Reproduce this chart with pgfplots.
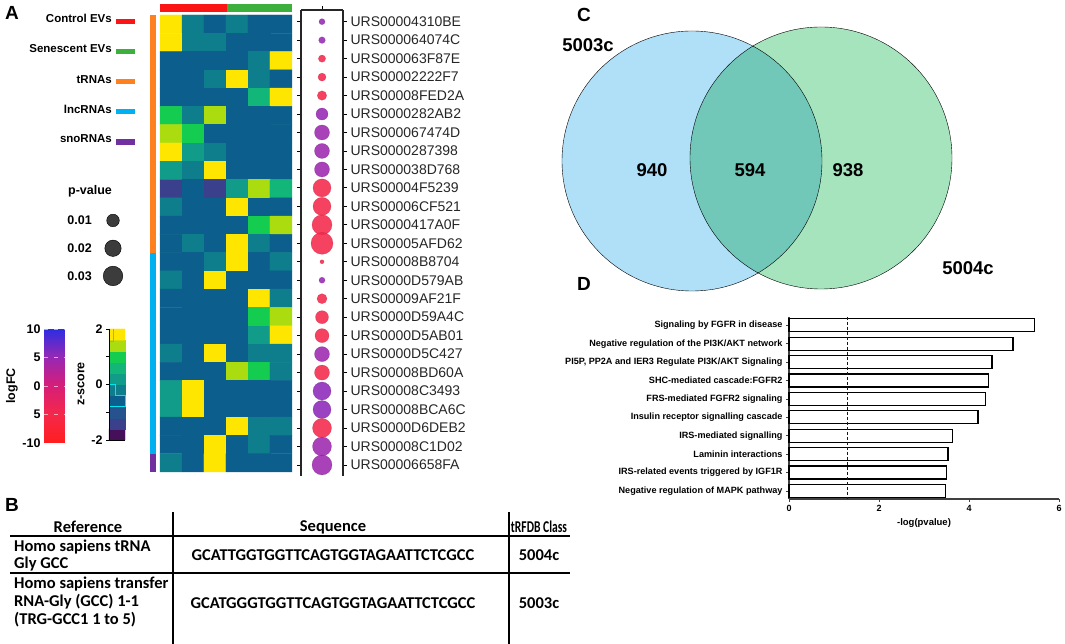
\documentclass[border=0pt]{standalone}
\usepackage{pgfplots}
\pgfplotsset{compat=1.18}
\usepackage{fontspec}
\setmainfont{Liberation Sans}
\newfontfamily\calib{Carlito}
\newcommand\fs[1]{\fontsize{#1}{#1}\selectfont}
\definecolor{cRed}{RGB}{250,20,20}
\definecolor{cGreen}{RGB}{60,175,60}
\definecolor{cOrange}{RGB}{255,128,30}
\definecolor{cCyan}{RGB}{0,176,240}
\definecolor{cPurple}{RGB}{112,48,160}
\definecolor{vblue}{RGB}{176,224,248}
\definecolor{vgreen}{RGB}{166,228,190}
\definecolor{dotgray}{RGB}{60,60,60}
\pgfplotsset{
  colormap={logfc}{rgb255(0cm)=(255,30,30) rgb255(1cm)=(245,40,75) rgb255(2cm)=(215,30,120) rgb255(3cm)=(150,40,180) rgb255(4cm)=(45,45,225)},
  colormap={zs}{rgb255(0cm)=(70,15,90) rgb255(1cm)=(58,64,140) rgb255(2cm)=(38,82,142) rgb255(3cm)=(12,95,140) rgb255(4cm)=(14,126,140) rgb255(5cm)=(17,155,137) rgb255(6cm)=(18,182,120) rgb255(7cm)=(20,205,80) rgb255(8cm)=(170,220,15) rgb255(9cm)=(255,230,0)},
  pix/.style={at={(0pt,0pt)}, anchor=south west, scale only axis,
    width=1065pt, height=644pt, xmin=0, xmax=1065, ymin=0, ymax=644,
    y dir=reverse, hide axis, clip=false},
}
\begin{document}
\begin{tikzpicture}[x=1pt,y=1pt]
\useasboundingbox (0,0) rectangle (1065,644);

%% ---------------- Heatmap ----------------
\begin{axis}[at={(160pt,172pt)}, anchor=south west, scale only axis,
  width=132pt, height=457pt, xmin=0.5, xmax=6.5, ymin=0.5, ymax=25.5,
  y dir=reverse, hide axis, clip=false,
  colormap name=zs, point meta min=-1.8, point meta max=1.8]
\addplot[matrix plot*, mesh/cols=6, point meta=explicit] table[row sep=\\, meta=z] {
x y z\\
1 1 1.8\\ 2 1 -0.2\\ 3 1 -0.6\\ 4 1 -0.2\\ 5 1 -0.6\\ 6 1 -0.6\\
1 2 1.8\\ 2 2 -0.2\\ 3 2 -0.2\\ 4 2 -0.6\\ 5 2 -0.6\\ 6 2 -0.6\\
1 3 -0.6\\ 2 3 -0.6\\ 3 3 -0.6\\ 4 3 -0.6\\ 5 3 -0.2\\ 6 3 1.8\\
1 4 -0.6\\ 2 4 -0.6\\ 3 4 -0.2\\ 4 4 1.8\\ 5 4 -0.2\\ 6 4 -0.6\\
1 5 -0.6\\ 2 5 -0.6\\ 3 5 -0.6\\ 4 5 -0.6\\ 5 5 0.6\\ 6 5 1.8\\
1 6 1.0\\ 2 6 -0.2\\ 3 6 1.4\\ 4 6 -0.6\\ 5 6 -0.6\\ 6 6 -0.6\\
1 7 1.4\\ 2 7 1.0\\ 3 7 -0.6\\ 4 7 -0.6\\ 5 7 -0.6\\ 6 7 -0.6\\
1 8 1.8\\ 2 8 0.2\\ 3 8 -0.2\\ 4 8 -0.6\\ 5 8 -0.6\\ 6 8 -0.6\\
1 9 0.2\\ 2 9 -0.2\\ 3 9 1.8\\ 4 9 -0.6\\ 5 9 -0.6\\ 6 9 -0.6\\
1 10 -1.4\\ 2 10 -0.6\\ 3 10 -1.4\\ 4 10 0.2\\ 5 10 1.4\\ 6 10 0.6\\
1 11 -0.2\\ 2 11 -0.6\\ 3 11 -0.6\\ 4 11 1.8\\ 5 11 -0.6\\ 6 11 -0.6\\
1 12 -0.6\\ 2 12 -0.6\\ 3 12 -0.6\\ 4 12 -0.6\\ 5 12 1.0\\ 6 12 1.4\\
1 13 -0.6\\ 2 13 -0.2\\ 3 13 -0.6\\ 4 13 1.8\\ 5 13 -0.2\\ 6 13 -0.6\\
1 14 -0.6\\ 2 14 -0.6\\ 3 14 -0.2\\ 4 14 1.8\\ 5 14 -0.6\\ 6 14 -0.2\\
1 15 -0.2\\ 2 15 -0.6\\ 3 15 1.8\\ 4 15 -0.6\\ 5 15 -0.6\\ 6 15 -0.6\\
1 16 -0.6\\ 2 16 -0.6\\ 3 16 -0.6\\ 4 16 -0.6\\ 5 16 1.8\\ 6 16 -0.2\\
1 17 -0.6\\ 2 17 -0.6\\ 3 17 -0.6\\ 4 17 -0.6\\ 5 17 1.0\\ 6 17 1.4\\
1 18 -0.6\\ 2 18 -0.6\\ 3 18 -0.6\\ 4 18 -0.6\\ 5 18 0.2\\ 6 18 1.8\\
1 19 -0.2\\ 2 19 -0.6\\ 3 19 1.8\\ 4 19 -0.6\\ 5 19 -0.2\\ 6 19 -0.2\\
1 20 -0.6\\ 2 20 -0.6\\ 3 20 -0.6\\ 4 20 1.4\\ 5 20 1.0\\ 6 20 -0.2\\
1 21 0.2\\ 2 21 1.8\\ 3 21 -0.6\\ 4 21 -0.6\\ 5 21 -0.6\\ 6 21 -0.6\\
1 22 0.2\\ 2 22 1.8\\ 3 22 -0.6\\ 4 22 -0.6\\ 5 22 -0.6\\ 6 22 -0.6\\
1 23 -0.6\\ 2 23 -0.6\\ 3 23 -0.6\\ 4 23 1.8\\ 5 23 -0.2\\ 6 23 -0.2\\
1 24 -0.6\\ 2 24 -0.6\\ 3 24 1.8\\ 4 24 -0.6\\ 5 24 -0.2\\ 6 24 -0.6\\
1 25 -0.2\\ 2 25 -0.6\\ 3 25 1.8\\ 4 25 -0.6\\ 5 25 -0.6\\ 6 25 -0.6\\
};
% column annotation (Control / Senescent)
\addplot[fill=cRed, draw=none, mark=none] coordinates {(0.5,-0.1) (3.55,-0.1) (3.55,0.31) (0.5,0.31)};
\addplot[fill=cGreen, draw=none, mark=none] coordinates {(3.55,-0.1) (6.5,-0.1) (6.5,0.31) (3.55,0.31)};
% row annotation (RNA class)
\addplot[fill=cOrange, draw=none, mark=none] coordinates {(0.045,0.5) (0.318,0.5) (0.318,13.5) (0.045,13.5)};
\addplot[fill=cCyan, draw=none, mark=none] coordinates {(0.045,13.5) (0.318,13.5) (0.318,24.5) (0.045,24.5)};
\addplot[fill=cPurple, draw=none, mark=none] coordinates {(0.045,24.5) (0.318,24.5) (0.318,25.5) (0.045,25.5)};
\end{axis}

%% ---------------- Dot plot ----------------
\begin{axis}[at={(301pt,168pt)}, anchor=south west, scale only axis,
  width=42pt, height=466pt, xmin=0, xmax=1, ymin=0.367, ymax=25.6,
  y dir=reverse, axis x line=top, axis y line=box,
  axis line style={-, line width=1.3pt, black!85},
  xtick={0.5}, xticklabels={}, ytick={1,...,25},
  yticklabels={URS00004310BE,URS000064074C,URS000063F87E,URS00002222F7,URS00008FED2A,URS0000282AB2,URS000067474D,URS0000287398,URS000038D768,URS00004F5239,URS00006CF521,URS0000417A0F,URS00005AFD62,URS00008B8704,URS0000D579AB,URS00009AF21F,URS0000D59A4C,URS0000D5AB01,URS0000D5C427,URS00008BD60A,URS00008C3493,URS00008BCA6C,URS0000D6DEB2,URS00008C1D02,URS00006658FA},
  yticklabel pos=right, ytick pos=both, tick align=outside,
  major tick length=4pt, tick style={line width=0.8pt, black},
  yticklabel style={font=\fs{14}, black!85},
  clip=false, colormap name=logfc, point meta min=-10, point meta max=10]
\addplot[scatter, only marks, mark=*, point meta=explicit,
  visualization depends on={\thisrow{r}\as\rr},
  scatter/@pre marker code/.append style={/tikz/mark size=\rr pt},
  mark options={draw opacity=0.5, fill opacity=0.88}]
  table[x=x, y=y, meta=fc] {
x y r fc
0.5 1 3.0 5
0.5 2 3.3 5
0.5 3 3.6 -5
0.5 4 4.0 -5
0.5 5 4.7 -5
0.5 6 6.0 5
0.5 7 7.5 4.5
0.5 8 7.5 4.5
0.5 9 7.5 4.5
0.5 10 9.0 -5
0.5 11 9.0 -5
0.5 12 10.0 -5
0.5 13 11.0 -5
0.5 14 2.0 -5
0.5 15 3.0 5
0.5 16 5.0 -5
0.5 17 6.5 -5
0.5 18 7.0 -5
0.5 19 7.5 4.5
0.5 20 7.5 -5
0.5 21 9.0 5.5
0.5 22 9.0 5.5
0.5 23 9.5 -5
0.5 24 9.5 4.5
0.5 25 10.0 4.5
};
\end{axis}

%% ---------------- logFC colour bar ----------------
\begin{axis}[at={(44pt,201pt)}, anchor=south west, scale only axis,
  width=21pt, height=114pt, xmin=0, xmax=1, ymin=-10, ymax=10,
  axis line style={draw=none}, xtick=\empty,
  ytick={-10,-5,0,5,10}, yticklabels={-10,5,0,5,10},
  major tick length=0pt, yticklabel style={font=\bfseries\fs{12.5}},
  ymajorgrids, grid style={white, dash pattern=on 4pt off 6pt, line width=0.6pt, opacity=0.6},
  axis on top, colormap name=logfc, point meta min=-10, point meta max=10]
\addplot[patch, patch type=rectangle, shader=interp, point meta=explicit] coordinates {
(0,-10)[-10] (1,-10)[-10] (1,-5)[-5] (0,-5)[-5]
(0,-5)[-5] (1,-5)[-5] (1,0)[0] (0,0)[0]
(0,0)[0] (1,0)[0] (1,5)[5] (0,5)[5]
(0,5)[5] (1,5)[5] (1,10)[10] (0,10)[10]
};
\end{axis}

%% ---------------- z-score colour bar ----------------
\begin{axis}[at={(109pt,204pt)}, anchor=south west, scale only axis,
  width=16pt, height=111pt, xmin=0, xmax=1, ymin=-2, ymax=2,
  axis x line=bottom, axis y line=left, axis line style={-, black, line width=0.8pt},
  xtick=\empty, ytick={-2,-1,0,1,2}, yticklabels={-2,,0,,2},
  tick align=outside, major tick length=3pt, tick style={black, line width=0.6pt},
  yticklabel style={font=\bfseries\fs{12.5}},
  axis on top, colormap name=zs, point meta min=-1.8, point meta max=1.8, clip=false]
\addplot[matrix plot*, mesh/cols=2, point meta=explicit] table[row sep=\\, meta=z] {
x y z\\
0.25 -1.8 -1.8\\ 0.75 -1.8 -1.8\\
0.25 -1.4 -1.4\\ 0.75 -1.4 -1.4\\
0.25 -1.0 -1.0\\ 0.75 -1.0 -1.0\\
0.25 -0.6 -0.6\\ 0.75 -0.6 -0.6\\
0.25 -0.2 -0.2\\ 0.75 -0.2 -0.2\\
0.25 0.2 0.2\\ 0.75 0.2 0.2\\
0.25 0.6 0.6\\ 0.75 0.6 0.6\\
0.25 1.0 1.0\\ 0.75 1.0 1.0\\
0.25 1.4 1.4\\ 0.75 1.4 1.4\\
0.25 1.8 1.8\\ 0.75 1.8 1.8\\
};
\addplot[color={rgb,255:red,0;green,230;blue,240}, line width=1pt, mark=none] coordinates {
(0.31,2) (0.31,1.54) (0.06,1.54) (0.06,0) (0.375,0) (0.375,-0.4) (1,-0.4) (1,-0.8) (0.06,-0.8) (0.06,-2)};
\end{axis}

%% ---------------- Panel D bar chart ----------------
\begin{axis}[at={(789pt,145pt)}, anchor=south west, scale only axis,
  width=270pt, height=182pt, xmin=0, xmax=6, ymin=0.549, ymax=10.435,
  y dir=reverse, xbar, bar width=13pt,
  axis x line*=bottom, axis y line*=left,
  axis line style={-, line width=1.4pt, black!75},
  xtick={0,2,4,6}, xticklabels={0,2,4,6}, ytick={1,...,10},
  yticklabels={Signaling by FGFR in disease,Negative regulation of the PI3K/AKT network,{PI5P, PP2A and IER3 Regulate PI3K/AKT Signaling},SHC-mediated cascade:FGFR2,FRS-mediated FGFR2 signaling,Insulin receptor signalling cascade,IRS-mediated signalling,Laminin interactions,IRS-related events triggered by IGF1R,Negative regulation of MAPK pathway},
  tick align=outside, major tick length=3pt, tick style={line width=0.8pt, black!75},
  xticklabel style={font=\bfseries\fs{9}}, yticklabel style={font=\bfseries\fs{9.1}},
  xlabel={-log(pvalue)}, xlabel style={font=\bfseries\fs{9.5}},
  clip=false]
\addplot[fill=white, draw=black, line width=1.3pt] coordinates {
(5.46,1) (4.98,2) (4.51,3) (4.44,4) (4.36,5) (4.20,6) (3.64,7) (3.53,8) (3.50,9) (3.47,10)};
\addplot[sharp plot, blue!80!black, dash pattern=on 3pt off 2pt, line width=0.8pt, mark=none] coordinates {(1.301,0.549) (1.301,10.435)};
\end{axis}

%% ---------------- Venn circles and p-value legend dots (pixel coordinates) ----------------
\begin{axis}[pix]
\addplot[only marks, mark=*, mark size=130pt, mark options={draw=none, fill=vblue}] coordinates {(692,161)};
\addplot[only marks, mark=*, mark size=131pt, mark options={draw=none, fill=vgreen, /tikz/blend mode=multiply}] coordinates {(821,158)};
\addplot[only marks, mark=*, mark size=6.3pt, mark options={draw=none, fill=dotgray}] coordinates {(113,220.5)};
\addplot[only marks, mark=*, mark size=8.2pt, mark options={draw=none, fill=dotgray}] coordinates {(113,248.3)};
\addplot[only marks, mark=*, mark size=9.8pt, mark options={draw=none, fill=dotgray}] coordinates {(113,276)};
\end{axis}

%% ---------------- Text, legends and table (pixel coordinates) ----------------
\begin{axis}[pix]
\addplot[draw=none, mark=none] coordinates {(0,0)};
% panel letters
\node[font=\bfseries\fs{19}] at (axis cs:12,13) {A};
\node[font=\bfseries\fs{19}] at (axis cs:12,505) {B};
\node[font=\bfseries\fs{19}] at (axis cs:584,15) {C};
\node[font=\bfseries\fs{19}] at (axis cs:584,284) {D};

% Panel A legend
\node[anchor=east, inner sep=0, font=\bfseries\fs{11.5}] at (axis cs:112,18.5) {Control EVs};
\node[anchor=east, inner sep=0, font=\bfseries\fs{11.5}] at (axis cs:112,48.5) {Senescent EVs};
\node[anchor=east, inner sep=0, font=\bfseries\fs{11.5}] at (axis cs:112,79.5) {tRNAs};
\node[anchor=east, inner sep=0, font=\bfseries\fs{11.5}] at (axis cs:112,109.5) {lncRNAs};
\node[anchor=east, inner sep=0, font=\bfseries\fs{11.5}] at (axis cs:112,138.5) {snoRNAs};
\fill[cRed] (axis cs:116,19) rectangle (axis cs:135,24.3);
\fill[cGreen] (axis cs:116,49.3) rectangle (axis cs:135,54.5);
\fill[cOrange] (axis cs:116,79) rectangle (axis cs:135,84.3);
\fill[cCyan] (axis cs:116,109.3) rectangle (axis cs:135,114.5);
\fill[cPurple] (axis cs:116,139.5) rectangle (axis cs:135,145);
\node[font=\bfseries\fs{12.5}] at (axis cs:90,191) {p-value};
\node[anchor=east, inner sep=0, font=\bfseries\fs{12.5}] at (axis cs:92,220.5) {0.01};
\node[anchor=east, inner sep=0, font=\bfseries\fs{12.5}] at (axis cs:92,248.3) {0.02};
\node[anchor=east, inner sep=0, font=\bfseries\fs{12.5}] at (axis cs:92,276) {0.03};
\node[rotate=90, font=\bfseries\fs{12.5}] at (axis cs:12,386) {logFC};
\node[rotate=90, font=\bfseries\fs{12.5}] at (axis cs:81,384) {z-score};

% Venn labels
\node[font=\bfseries\fs{18.5}] at (axis cs:588,45) {5003c};
\node[font=\bfseries\fs{18.5}] at (axis cs:968,268) {5004c};
\node[font=\bfseries\fs{18.5}] at (axis cs:652,170) {940};
\node[font=\bfseries\fs{18.5}] at (axis cs:750,170) {594};
\node[font=\bfseries\fs{18.5}] at (axis cs:848,170) {938};

% Panel B table
\draw[line width=1.1pt] (axis cs:10,536) -- (axis cs:570,536);
\draw[line width=1.1pt] (axis cs:10,573) -- (axis cs:570,573);
\draw[line width=1.1pt] (axis cs:173,512) -- (axis cs:173,644);
\draw[line width=1.1pt] (axis cs:509,512) -- (axis cs:509,644);
\node[font=\calib\bfseries\fs{16.5}] at (axis cs:88,527) {Reference};
\node[font=\calib\bfseries\fs{16.5}] at (axis cs:333,527) {Sequence};
\node[font=\calib\bfseries\fs{16.5}] at (axis cs:539,527) {\scalebox{0.7}[1]{tRFDB Class}};
\node[anchor=west, inner sep=0, font=\calib\bfseries\fs{16.5}] at (axis cs:14,547) {Homo sapiens tRNA};
\node[anchor=west, inner sep=0, font=\calib\bfseries\fs{16.5}] at (axis cs:14,564) {Gly GCC};
\node[font=\calib\bfseries\fs{16.5}] at (axis cs:333,555) {GCATTGGTGGTTCAGTGGTAGAATTCTCGCC};
\node[font=\calib\bfseries\fs{16.5}] at (axis cs:539,555) {5004c};
\node[anchor=west, inner sep=0, font=\calib\bfseries\fs{16.5}] at (axis cs:14,584) {Homo sapiens transfer};
\node[anchor=west, inner sep=0, font=\calib\bfseries\fs{16.5}] at (axis cs:14,602) {RNA-Gly (GCC) 1-1};
\node[anchor=west, inner sep=0, font=\calib\bfseries\fs{16.5}] at (axis cs:14,620) {(TRG-GCC1 1 to 5)};
\node[font=\calib\bfseries\fs{16.5}] at (axis cs:333,603) {GCATGGGTGGTTCAGTGGTAGAATTCTCGCC};
\node[font=\calib\bfseries\fs{16.5}] at (axis cs:539,603) {5003c};
\end{axis}
\end{tikzpicture}
\end{document}
